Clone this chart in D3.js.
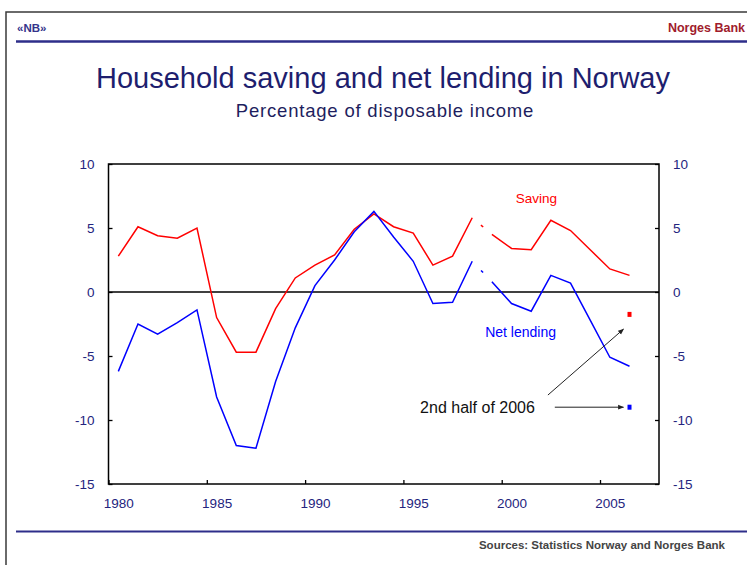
<!DOCTYPE html>
<html>
<head>
<meta charset="utf-8">
<script src="https://cdn.jsdelivr.net/npm/d3@7"></script>
<style>
  body { margin: 0; background: #fff; }
  svg { display: block; font-family: Arial, "Liberation Sans", sans-serif; }
  .axis text { fill: #24247e; font-size: 13.5px; }
  .axis path.domain { display: none; }
  .axis line { stroke: #000; stroke-width: 1.3; }
</style>
</head>
<body>
<svg id="chart" width="747" height="565"></svg>
<script>
// annual data, 1980-2006
const years = d3.range(1980, 2007);
const saving = [2.8, 5.1, 4.4, 4.2, 5.0, -2.0, -4.7, -4.7, -1.3, 1.1, 2.1, 2.9, 4.9, 6.1, 5.1,
  4.6, 2.1, 2.8, 5.8, 4.5, 3.4, 3.3, 5.6, 4.8, 3.3, 1.8, 1.3];
const netLending = [-6.2, -2.5, -3.3, -2.4, -1.4, -8.2, -12.0, -12.2, -7.0, -2.8, 0.5, 2.5, 4.7, 6.3, 4.3,
  2.4, -0.9, -0.8, 2.4, 0.8, -0.9, -1.5, 1.3, 0.7, -2.2, -5.1, -5.8];
// series break between these two years
const breakFrom = 1998, breakTo = 1999;
// 2nd half of 2006 (annualised)
const h2_2006 = { year: 2006, saving: -1.75, netLending: -9.0 };

const yTicks = [-15, -10, -5, 0, 5, 10];
const xTicks = [1980, 1985, 1990, 1995, 2000, 2005];

const svg = d3.select("#chart");
let margin = { top: 164, right: 88, bottom: 81, left: 108.5 };
let width = 747 - margin.left - margin.right;
let height = 565 - margin.top - margin.bottom;

// frame + header
svg.append("rect").attr("x", 6).attr("y", 12).attr("width", 760).attr("height", 600)
  .attr("fill", "none").attr("stroke", "#3a3a3a").attr("stroke-width", 1.5);
svg.append("line").attr("x1", 16).attr("x2", 747).attr("y1", 41.5).attr("y2", 41.5)
  .attr("stroke", "#2e2e8a").attr("stroke-width", 2.5);
svg.append("text").attr("x", 17).attr("y", 32).attr("font-size", 11.5).attr("font-weight", "bold")
  .attr("fill", "#34348a").text("«NB»");
svg.append("text").attr("x", 745).attr("y", 32).attr("text-anchor", "end").attr("font-size", 12.5)
  .attr("font-weight", "bold").attr("fill", "#a01c2c").text("Norges Bank");

svg.append("text").attr("x", 383).attr("y", 88).attr("text-anchor", "middle").attr("font-size", 29)
  .attr("fill", "#1e1e6e").text("Household saving and net lending in Norway");
svg.append("text").attr("x", 385).attr("y", 117).attr("text-anchor", "middle").attr("font-size", 18.5)
  .attr("letter-spacing", 0.8).attr("fill", "#1e1e5e").text("Percentage of disposable income");

// footer
svg.append("line").attr("x1", 16).attr("x2", 747).attr("y1", 531.5).attr("y2", 531.5)
  .attr("stroke", "#2e2e8a").attr("stroke-width", 2);
svg.append("text").attr("x", 725).attr("y", 549).attr("text-anchor", "end").attr("font-size", 11.5)
  .attr("font-weight", "bold").attr("fill", "#444").text("Sources: Statistics Norway and Norges Bank");

// scales: category axis, one band per year, marks at band centre
let x = d3.scaleLinear().domain([1980, 2008]).range([0, width]);
let y = d3.scaleLinear().domain([-15, 10]).range([height, 0]);
const cx = yr => x(yr + 0.5);
const plain = d => String(d); // hyphen minus, as in the original

let chart = svg.append("g").attr("transform", "translate(" + margin.left + "," + margin.top + ")");

// y-axes (inward ticks)
chart.append("g").attr("class", "axis")
  .call(d3.axisLeft(y).tickValues(yTicks).tickFormat(plain).tickSizeInner(-4).tickSizeOuter(0).tickPadding(14));
chart.append("g").attr("class", "axis").attr("transform", "translate(" + width + ",0)")
  .call(d3.axisRight(y).tickValues(yTicks).tickFormat(plain).tickSizeInner(-4).tickSizeOuter(0).tickPadding(14));

// x-axis: ticks at year boundaries, labels centred on the year
let xAxis = chart.append("g").attr("class", "axis").attr("transform", "translate(0," + height + ")")
  .call(d3.axisBottom(x).tickValues(xTicks).tickSizeInner(-4).tickSizeOuter(0).tickFormat(plain).tickPadding(14));
xAxis.selectAll("text").attr("dx", x(1980.5) - x(1980));

// plot frame + zero line
chart.append("rect").attr("width", width).attr("height", height)
  .attr("fill", "none").attr("stroke", "#000").attr("stroke-width", 1.5);
chart.append("line").attr("x1", 0).attr("x2", width).attr("y1", y(0)).attr("y2", y(0))
  .attr("stroke", "#000").attr("stroke-width", 1.3);

function drawSeries(values, colour) {
  const pts = years.map((yr, i) => ({ yr: yr, v: values[i] }));
  const line = d3.line().x(d => cx(d.yr)).y(d => y(d.v));
  chart.append("path").datum(pts.filter(d => d.yr <= breakFrom)).attr("d", line)
    .attr("fill", "none").attr("stroke", colour).attr("stroke-width", 1.5);
  chart.append("path").datum(pts.filter(d => d.yr >= breakTo)).attr("d", line)
    .attr("fill", "none").attr("stroke", colour).attr("stroke-width", 1.5);
  // dotted bridge across the break
  const bridge = chart.append("path").datum(pts.filter(d => d.yr >= breakFrom && d.yr <= breakTo)).attr("d", line)
    .attr("fill", "none").attr("stroke", colour).attr("stroke-width", 1.5);
  const L = bridge.node().getTotalLength();
  bridge.attr("stroke-dasharray", "0," + (L / 2 - 1.5) + ",3," + L);
}
drawSeries(saving, "#ff0000");
drawSeries(netLending, "#0000ff");

// 2nd half of 2006 markers
chart.append("rect").attr("x", cx(h2_2006.year) - 2).attr("y", y(h2_2006.saving) - 2.5)
  .attr("width", 4).attr("height", 5).attr("fill", "#ff0000");
chart.append("rect").attr("x", cx(h2_2006.year) - 2).attr("y", y(h2_2006.netLending) - 2.5)
  .attr("width", 4).attr("height", 5).attr("fill", "#0000ff");

// series labels
chart.append("text").attr("x", cx(2001.26)).attr("y", y(6.95)).attr("text-anchor", "middle")
  .attr("font-size", 13.5).attr("fill", "#ff0000").text("Saving");
chart.append("text").attr("x", cx(2000.46)).attr("y", y(-3.5)).attr("text-anchor", "middle")
  .attr("font-size", 14).attr("fill", "#0000ff").text("Net lending");

// annotation
svg.append("defs").append("marker").attr("id", "arr").attr("viewBox", "0 0 10 10")
  .attr("refX", 9).attr("refY", 5).attr("markerWidth", 6).attr("markerHeight", 6).attr("orient", "auto")
  .append("path").attr("d", "M0,1 L10,5 L0,9 Z").attr("fill", "#222");
chart.append("text").attr("x", x(1995.85)).attr("y", y(-9.0) + 5.5).attr("font-size", 16)
  .attr("fill", "#111").text("2nd half of 2006");
chart.append("line").attr("x1", x(2002.7)).attr("y1", y(-9.0)).attr("x2", cx(h2_2006.year) - 6).attr("y2", y(-9.0))
  .attr("stroke", "#222").attr("stroke-width", 1).attr("marker-end", "url(#arr)");
chart.append("line").attr("x1", x(2002.35)).attr("y1", y(-8.05)).attr("x2", cx(h2_2006.year) - 6).attr("y2", y(-2.9))
  .attr("stroke", "#222").attr("stroke-width", 1).attr("marker-end", "url(#arr)");
</script>
</body>
</html>
